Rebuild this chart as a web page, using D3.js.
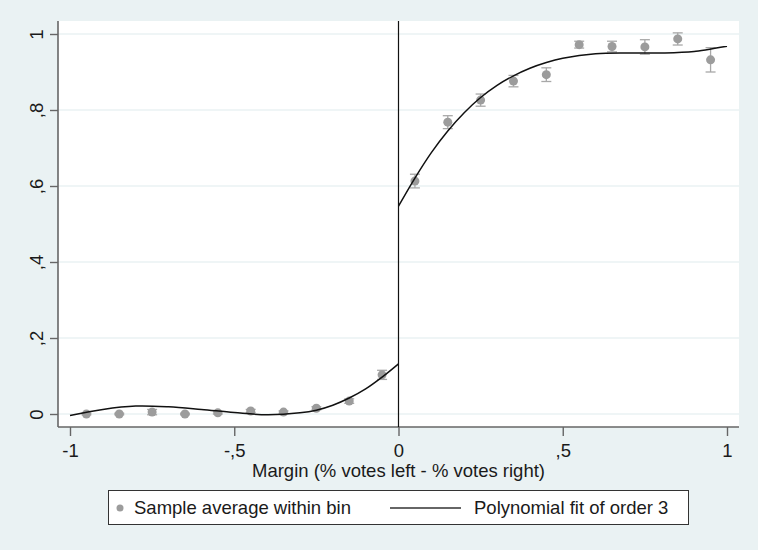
<!DOCTYPE html>
<html>
<head>
<meta charset="utf-8">
<script src="https://cdn.jsdelivr.net/npm/d3@7"></script>
<style>
  html, body { margin: 0; padding: 0; background: #eaf2f3; }
  svg { display: block; }
  text { font-family: "Liberation Sans", Arial, sans-serif; fill: #1a1a1a; }
</style>
</head>
<body>
<svg id="chart" width="758" height="550"></svg>
<script>
// ---- Data ----
const binCenters = [-0.95, -0.85, -0.75, -0.65, -0.55, -0.45, -0.35, -0.25, -0.15, -0.05,
                     0.05, 0.15, 0.25, 0.35, 0.45, 0.55, 0.65, 0.75, 0.85, 0.95];
const binMeans   = [0.000, 0.000, 0.005, 0.000, 0.003, 0.008, 0.005, 0.015, 0.034, 0.103,
                    0.613, 0.768, 0.826, 0.876, 0.893, 0.972, 0.967, 0.966, 0.987, 0.932];
const binHalfCI  = [0.002, 0.002, 0.007, 0.002, 0.003, 0.004, 0.003, 0.004, 0.006, 0.012,
                    0.018, 0.017, 0.016, 0.015, 0.018, 0.009, 0.014, 0.019, 0.016, 0.032];

const fitLeftX  = [-1.0, -0.9, -0.8, -0.7, -0.6, -0.5, -0.4, -0.3, -0.25, -0.2, -0.15, -0.1, -0.05, 0.0];
const fitLeftY  = [-0.004, 0.012, 0.021, 0.019, 0.012, 0.004, -0.002, 0.003, 0.010, 0.023, 0.042, 0.066, 0.097, 0.132];
const fitRightX = [0.0, 0.05, 0.1, 0.15, 0.2, 0.25, 0.3, 0.35, 0.4, 0.45, 0.5, 0.6, 0.7, 0.8, 0.9, 1.0];
const fitRightY = [0.547, 0.621, 0.688, 0.745, 0.793, 0.833, 0.865, 0.890, 0.910, 0.925, 0.936, 0.948, 0.950, 0.950, 0.954, 0.968];

const xTicks = [-1, -0.5, 0, 0.5, 1];
const xTickLabels = ["-1", "-,5", "0", ",5", "1"];
const yTicks = [0, 0.2, 0.4, 0.6, 0.8, 1];
const yTickLabels = ["0", ",2", ",4", ",6", ",8", "1"];

const xTitle = "Margin (% votes left - % votes right)";
const legendLabels = ["Sample average within bin", "Polynomial fit of order 3"];

// ---- Layout ----
const FS = 18.5;
const svg = d3.select("#chart");
const plot = { left: 58, right: 739, top: 21, bottom: 427 };

const x = d3.scaleLinear().domain([-1, 1]).range([70, 727]);
const y = d3.scaleLinear().domain([0, 1]).range([414, 34]);

svg.append("rect").attr("x", 0).attr("y", 0).attr("width", 758).attr("height", 550).attr("fill", "#eaf2f3");
svg.append("rect")
  .attr("x", plot.left).attr("y", plot.top)
  .attr("width", plot.right - plot.left).attr("height", plot.bottom - plot.top)
  .attr("fill", "#ffffff");

// gridlines
svg.append("g").selectAll("line").data(yTicks).join("line")
  .attr("x1", plot.left).attr("x2", plot.right)
  .attr("y1", d => y(d)).attr("y2", d => y(d))
  .attr("stroke", "#eaf2f3").attr("stroke-width", 1.5);

// Y axis
const yAxis = d3.axisLeft(y).tickValues(yTicks).tickSize(8).tickPadding(8)
  .tickFormat((d, i) => yTickLabels[i]);
const gy = svg.append("g").attr("transform", `translate(${plot.left},0)`).call(yAxis);
gy.select(".domain").remove();
gy.append("line").attr("x1", 0).attr("x2", 0).attr("y1", plot.top).attr("y2", plot.bottom)
  .attr("stroke", "#666").attr("stroke-width", 1.6);
gy.selectAll(".tick line").attr("stroke", "#666").attr("stroke-width", 1.4);
gy.selectAll(".tick text")
  .attr("font-size", FS).attr("fill", "#1a1a1a")
  .attr("text-anchor", "middle")
  .attr("x", 0).attr("y", 0).attr("dy", 0)
  .attr("transform", `translate(-15,0) rotate(-90)`);

// X axis
const xAxis = d3.axisBottom(x).tickValues(xTicks).tickSize(9).tickPadding(7)
  .tickFormat((d, i) => xTickLabels[i]);
const gx = svg.append("g").attr("transform", `translate(0,${plot.bottom})`).call(xAxis);
gx.select(".domain").remove();
gx.append("line").attr("x1", plot.left).attr("x2", plot.right).attr("y1", 0).attr("y2", 0)
  .attr("stroke", "#666").attr("stroke-width", 1.6);
gx.selectAll(".tick line").attr("stroke", "#666").attr("stroke-width", 1.4);
gx.selectAll(".tick text").attr("font-size", FS).attr("fill", "#1a1a1a")
  .attr("y", 30).attr("dy", 0);

svg.append("text").attr("x", x(0)).attr("y", 477)
  .attr("text-anchor", "middle").attr("font-size", FS).text(xTitle);

// Vertical cutoff line
svg.append("line").attr("x1", x(0)).attr("x2", x(0))
  .attr("y1", plot.top).attr("y2", plot.bottom)
  .attr("stroke", "#111").attr("stroke-width", 1.2);

// Error bars
const bins = binCenters.map((c, i) => ({ x: c, m: binMeans[i], h: binHalfCI[i] }));
const eb = svg.append("g").attr("stroke", "#a8a8a8").attr("stroke-width", 1.3);
eb.selectAll("line.v").data(bins).join("line").attr("class", "v")
  .attr("x1", d => x(d.x)).attr("x2", d => x(d.x))
  .attr("y1", d => y(d.m - d.h)).attr("y2", d => y(d.m + d.h));
eb.selectAll("line.t").data(bins).join("line").attr("class", "t")
  .attr("x1", d => x(d.x) - 5).attr("x2", d => x(d.x) + 5)
  .attr("y1", d => y(d.m + d.h)).attr("y2", d => y(d.m + d.h));
eb.selectAll("line.b").data(bins).join("line").attr("class", "b")
  .attr("x1", d => x(d.x) - 5).attr("x2", d => x(d.x) + 5)
  .attr("y1", d => y(d.m - d.h)).attr("y2", d => y(d.m - d.h));

// Points
svg.append("g").selectAll("circle").data(bins).join("circle")
  .attr("cx", d => x(d.x)).attr("cy", d => y(d.m)).attr("r", 4.5)
  .attr("fill", "#9c9c9c");

// Fit lines
const line = d3.line().x(d => x(d[0])).y(d => y(d[1])).curve(d3.curveCatmullRom.alpha(0.5));
svg.append("path").datum(fitLeftX.map((v, i) => [v, fitLeftY[i]]))
  .attr("d", line).attr("fill", "none").attr("stroke", "#111").attr("stroke-width", 1.5);
svg.append("path").datum(fitRightX.map((v, i) => [v, fitRightY[i]]))
  .attr("d", line).attr("fill", "none").attr("stroke", "#111").attr("stroke-width", 1.5);

// Legend
const lg = svg.append("g");
lg.append("rect").attr("x", 108.5).attr("y", 490.5).attr("width", 580).attr("height", 34)
  .attr("fill", "#fff").attr("stroke", "#333").attr("stroke-width", 1);
lg.append("circle").attr("cx", 120).attr("cy", 508).attr("r", 3.5).attr("fill", "#9c9c9c");
lg.append("text").attr("x", 134).attr("y", 514).attr("font-size", FS).text(legendLabels[0]);
lg.append("line").attr("x1", 390).attr("x2", 461).attr("y1", 508).attr("y2", 508)
  .attr("stroke", "#333").attr("stroke-width", 1.5);
lg.append("text").attr("x", 474).attr("y", 514).attr("font-size", FS).text(legendLabels[1]);
</script>
</body>
</html>
